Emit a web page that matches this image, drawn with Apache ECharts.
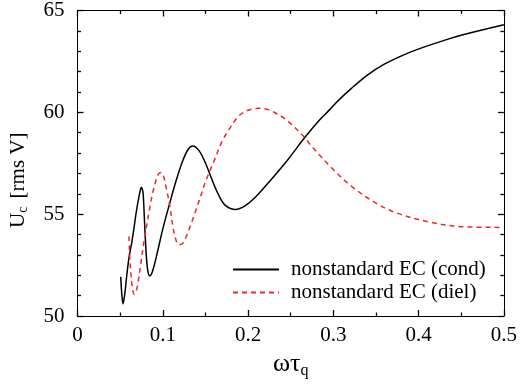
<!DOCTYPE html>
<html>
<head>
<meta charset="utf-8">
<script src="https://cdn.jsdelivr.net/npm/echarts@6/dist/echarts.min.js"></script>
<style>html,body{margin:0;padding:0;background:#fff}#c{width:520px;height:388px}</style>
</head>
<body>
<div id="c"></div>
<script>
var seriesNames = ['nonstandard EC (cond)', 'nonstandard EC (diel)'];
var xTicks = [0, 0.1, 0.2, 0.3, 0.4, 0.5];
var yTicks = [50, 55, 60, 65];

var condX = [0.0507,0.0520,0.0534,0.0555,0.0576,0.0605,0.0634,0.0665,0.0692,0.0731,0.0750,0.0762,0.0770,0.0779,0.0789,0.0808,0.0825,0.0847,0.0880,0.0924,0.1002,0.1079,0.1156,0.1234,0.1300,0.1350,0.1427,0.1505,0.1582,0.1659,0.1737,0.1853,0.1968,0.2085,0.2277,0.2471,0.2665,0.2838,0.2955,0.3051,0.3206,0.3399,0.3593,0.3786,0.3979,0.4327,0.4521,0.5];
var condY = [51.92,51.05,50.59,51.10,51.92,52.90,53.55,54.40,55.18,56.07,56.32,56.20,55.99,55.30,54.36,52.90,52.20,51.97,52.20,52.90,54.30,55.50,56.64,57.62,58.20,58.35,58.11,57.46,56.64,55.91,55.42,55.23,55.42,55.83,56.73,57.70,58.76,59.62,60.12,60.55,61.15,61.83,62.35,62.75,63.08,63.57,63.81,64.30];

var dielX = [0.0603,0.0615,0.0628,0.0642,0.0665,0.0690,0.0712,0.0740,0.0770,0.0810,0.0847,0.0885,0.0924,0.0955,0.0982,0.1010,0.1040,0.1079,0.1118,0.1150,0.1187,0.1230,0.1272,0.1330,0.1389,0.1450,0.1505,0.1600,0.1698,0.1800,0.1891,0.2000,0.2123,0.2220,0.2317,0.2420,0.2509,0.2665,0.2742,0.2973,0.3205,0.3477,0.3747,0.4134,0.4521,0.5];
var dielY = [53.91,52.74,52.00,51.43,51.06,51.25,51.70,52.50,53.40,54.40,55.30,56.10,56.70,57.00,57.05,56.85,56.30,55.50,54.40,53.80,53.50,53.55,53.87,54.50,55.20,55.95,56.64,57.60,58.60,59.30,59.82,60.10,60.20,60.15,59.98,59.72,59.41,58.76,58.35,57.30,56.40,55.60,55.05,54.61,54.38,54.35];

function pairs(xs, ys){ return xs.map(function(x,i){ return [x, ys[i]]; }); }

var FONT = "'Liberation Serif','Times New Roman',serif";
var chart = echarts.init(document.getElementById('c'), null, {renderer:'canvas'});

function xAxisDef(pos, labels, c1, c2){
  return {
    type:'value', position:pos, min:xTicks[0], max:xTicks[xTicks.length-1], interval:0.1,
    axisLine:{show:true, onZero:false, lineStyle:{color:'#000', width:1}},
    axisTick:{show:true, inside:true, length:6, lineStyle:{color:c1, width:1.3}},
    minorTick:{show:true, splitNumber:2, length:3.5, lineStyle:{color:c2, width:1.3}},
    splitLine:{show:false},
    axisLabel:{show:labels, margin:9, color:'#000', fontFamily:FONT, fontSize:21},
  };
}
function yAxisDef(pos, labels, c1, c2){
  return {
    type:'value', position:pos, min:yTicks[0], max:yTicks[yTicks.length-1], interval:5,
    axisLine:{show:true, onZero:false, lineStyle:{color:'#000', width:1}},
    axisTick:{show:true, inside:true, length:6, lineStyle:{color:c1, width:1.3}},
    minorTick:{show:true, splitNumber:5, length:3.5, lineStyle:{color:c2, width:1.3}},
    splitLine:{show:false},
    axisLabel:{show:labels, margin:13, color:'#000', fontFamily:FONT, fontSize:21},
  };
}

var xb = xAxisDef('bottom', true, '#0b0000', '#000b00');
xb.name = '{a|ωτ}{s|q}';
xb.nameLocation = 'middle';
xb.nameGap = 33;
xb.nameTextStyle = {color:'#000', fontFamily:FONT, rich:{
  a:{fontFamily:FONT, fontSize:26, color:'#000'},
  s:{fontFamily:FONT, fontSize:16, color:'#000', padding:[14,0,0,0]}
}};
var yl = yAxisDef('left', true, '#00000b', '#0b0b00');
yl.name = '{a|U}{s|c}{a| [rms V]}';
yl.nameLocation = 'middle';
yl.nameGap = 47;
yl.nameTextStyle = {color:'#000', fontFamily:FONT, padding:[0,34,0,0], rich:{
  a:{fontFamily:FONT, fontSize:21, color:'#000'},
  s:{fontFamily:FONT, fontSize:14, color:'#000', padding:[10,3,0,0]}
}};

chart.setOption({
  animation:false,
  backgroundColor:'#fff',
  grid:{left:77, right:12, top:9, bottom:72, containLabel:false},
  xAxis:[xb, xAxisDef('top', false, '#0b000b', '#000b0b')],
  yAxis:[yl, yAxisDef('right', false, '#070707', '#0d0000')],
  legend:{
    orient:'vertical', left:232, top:259, padding:0, itemGap:2,
    itemWidth:46, itemHeight:14,
    itemStyle:{opacity:0},
    textStyle:{fontFamily:FONT, fontSize:21, color:'#000', lineHeight:21, padding:[0,0,0,7]},
    data:seriesNames
  },
  series:[
    {name:seriesNames[0], type:'line', xAxisIndex:0, yAxisIndex:0, data:pairs(condX, condY),
     symbol:'none', smooth:0.35, lineStyle:{color:'#000', width:1.5}, itemStyle:{color:'#000'}},
    {name:seriesNames[1], type:'line', xAxisIndex:0, yAxisIndex:0, data:pairs(dielX, dielY),
     symbol:'none', smooth:0.35, lineStyle:{color:'#f02828', width:1.5, type:[5,4]}, itemStyle:{color:'#f02828'}}
  ]
});
</script>
</body>
</html>
